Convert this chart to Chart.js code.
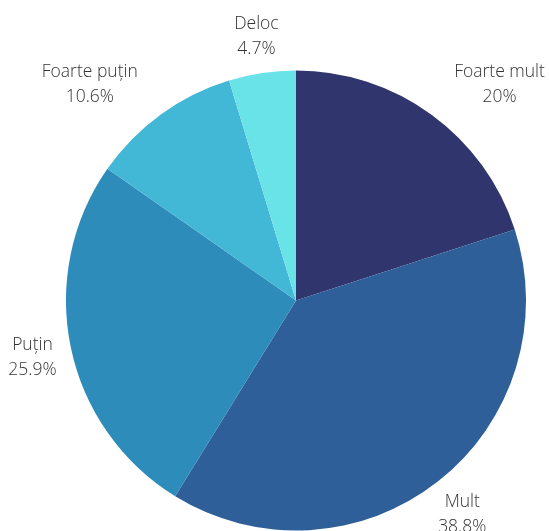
<!DOCTYPE html>
<html>
<head>
<meta charset="utf-8">
<script src="https://cdn.jsdelivr.net/npm/chart.js@4"></script>
<style>
  html, body { margin: 0; padding: 0; background: #fff; }
  #wrap { width: 549px; height: 531px; }
</style>
</head>
<body>
<div id="wrap"><canvas id="pie-chart" width="549" height="531"></canvas></div>
<script>
const labels = ['Foarte mult', 'Mult', 'Puțin', 'Foarte puțin', 'Deloc'];
const values = [20, 38.8, 25.9, 10.6, 4.7];
const colors = ['#31356e', '#2e5f99', '#2e8cbb', '#43b7d6', '#69e3e8'];

// draws name + percent outside each slice
const outsideLabels = {
    id: 'outsideLabels',
    afterDatasetsDraw(chart) {
        const ctx = chart.ctx;
        const meta = chart.getDatasetMeta(0);
        ctx.save();
        ctx.font = '300 17.5px "Open Sans"';
        ctx.fillStyle = '#333';
        ctx.textBaseline = 'middle';
        ctx.textAlign = 'center';
        meta.data.forEach((arc, i) => {
            const p = arc.getProps(['x', 'y', 'startAngle', 'endAngle', 'outerRadius'], true);
            const mid = (p.startAngle + p.endAngle) / 2;
            const dx = Math.cos(mid), dy = Math.sin(mid);
            const r = p.outerRadius * 1.17;
            let x = p.x + dx * r;
            const y = p.y + dy * r + 2;
            const l1 = labels[i], l2 = values[i] + '%';
            const w = Math.max(ctx.measureText(l1).width, ctx.measureText(l2).width);
            // upper side labels hang off the anchor point
            if (dy < -0.3 && Math.abs(dx) > 0.3) x += dx > 0 ? w / 2 : -w / 2;
            ctx.fillText(l1, x, y - 12.5);
            ctx.fillText(l2, x, y + 12.5);
        });
        ctx.restore();
    }
};

new Chart('pie-chart', {
    type: 'pie',
    data: {
        labels: labels,
        datasets: [{
            data: values,
            backgroundColor: colors,
            borderWidth: 0
        }]
    },
    options: {
        responsive: false,
        animation: false,
        layout: { padding: { top: 70, bottom: 0, left: 66, right: 23 } },
        plugins: {
            legend: { display: false },
            tooltip: { enabled: false }
        }
    },
    plugins: [outsideLabels]
});
</script>
</body>
</html>
